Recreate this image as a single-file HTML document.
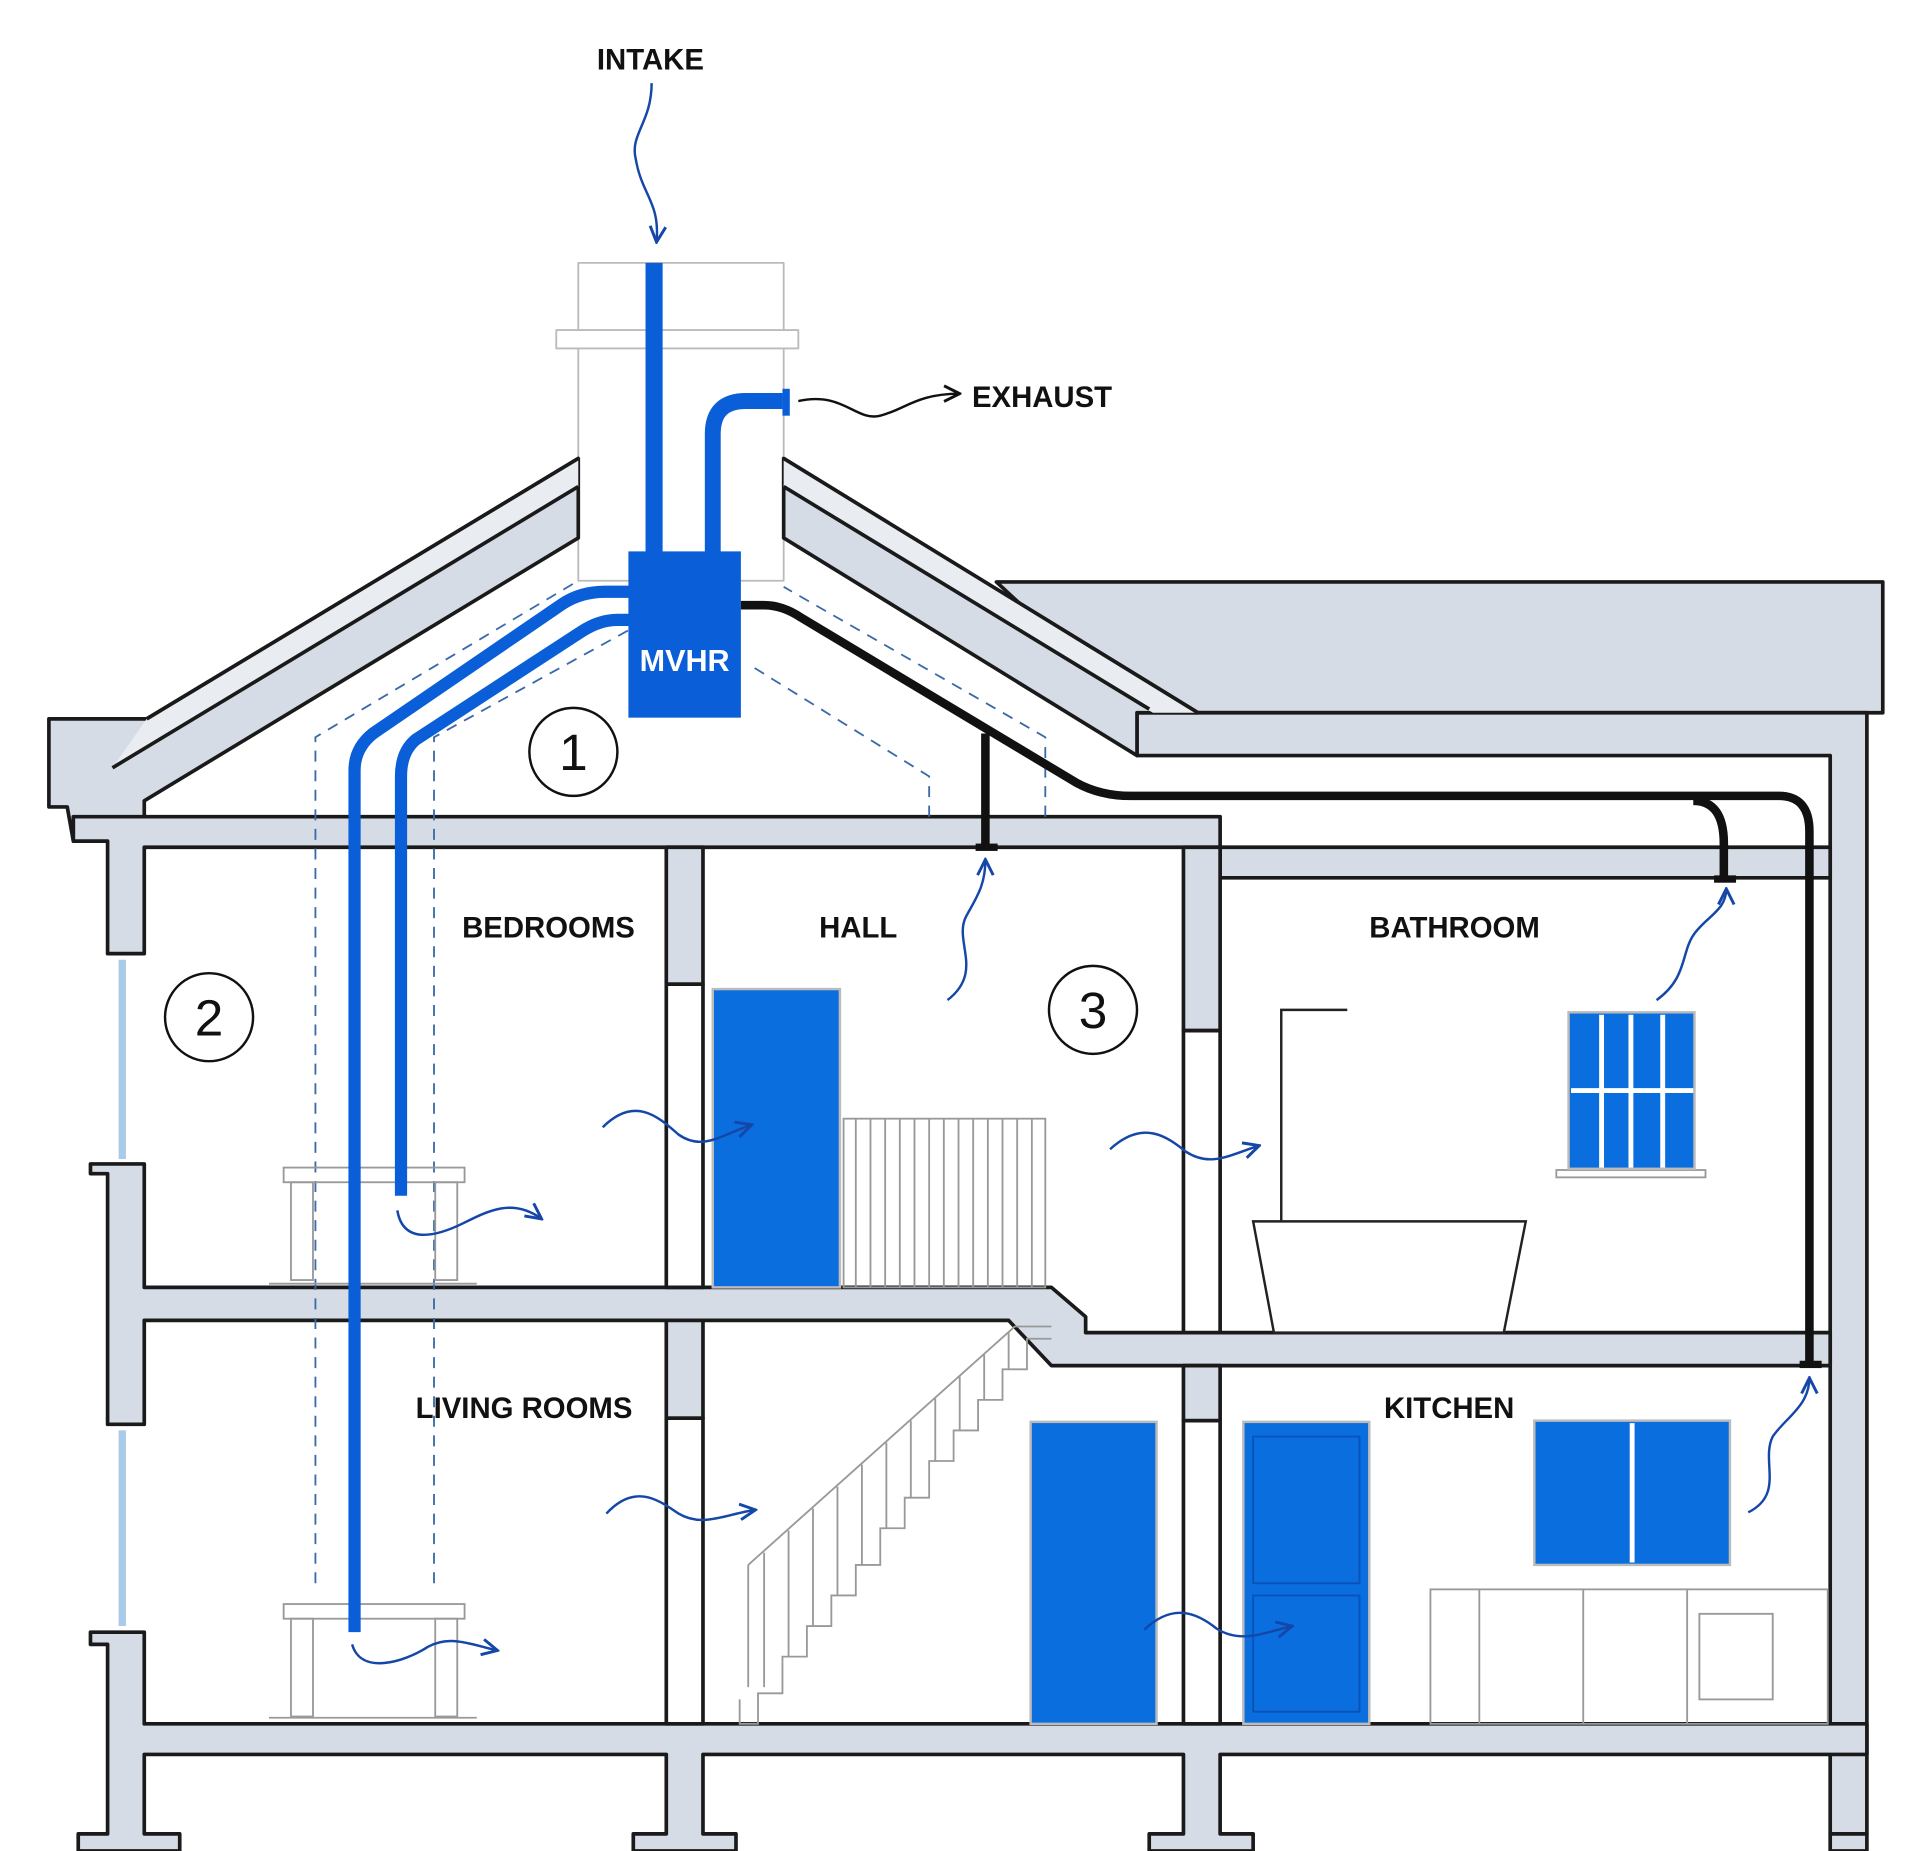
<!DOCTYPE html>
<html><head><meta charset="utf-8"><style>
html,body{margin:0;padding:0;background:#fff}
svg{display:block}
text{font-family:"Liberation Sans",sans-serif;font-weight:bold}
</style></head><body>
<svg width="1917" height="1851" viewBox="0 0 1568 1514" preserveAspectRatio="none" xmlns="http://www.w3.org/2000/svg">
<defs>
<marker id="ah" viewBox="0 0 10 10" refX="9" refY="5" markerWidth="8" markerHeight="8" orient="auto"><path d="M1 1 L9 5 L1 9" fill="none" stroke="#1447a8" stroke-width="1.5"/></marker>
<marker id="ak" viewBox="0 0 10 10" refX="9" refY="5" markerWidth="8" markerHeight="8" orient="auto"><path d="M1 1 L9 5 L1 9" fill="none" stroke="#111" stroke-width="1.5"/></marker>
</defs>
<g stroke="#1a1a1a" stroke-width="3" fill="#d6dce6" stroke-linejoin="round">
<rect x="473" y="215" width="168" height="260" fill="#fff" stroke="#bbb" stroke-width="1.5"/>
<rect x="455" y="270" width="198" height="15" fill="#fff" stroke="#bbb" stroke-width="1.5"/>
<polygon points="815,476 1540,476 1540,583 930,583"/>
<polygon points="930,583 1527,583 1527,1500 1497,1500 1497,618 930,618"/>
<polygon points="40,588 120,588 473,375 473,440 118,655 118,688 60,688 55,660 40,660"/>
<polygon points="641,375 980,583 930,583 930,618 641,440"/>
<polygon points="60,668 998,668 998,693 1497,693 1497,718 998,718 998,693 118,693 118,780 88,780 88,688 60,688"/>
<polygon points="74,952 118,952 118,1053 860,1053 888,1077 888,1090 1497,1090 1497,1117 860,1117 825,1080 118,1080 118,1165 88,1165 88,960 74,960"/>
<polygon points="74,1335 118,1335 118,1410 1497,1410 1527,1410 1527,1435 998,1435 998,1500 1025,1500 1025,1514 940,1514 940,1500 968,1500 968,1435 575,1435 575,1500 602,1500 602,1514 518,1514 518,1500 545,1500 545,1435 118,1435 118,1500 147,1500 147,1514 64,1514 64,1500 88,1500 88,1345 74,1345"/>
<polygon points="1497,1500 1527,1500 1527,1514 1497,1514" />
<rect x="545" y="693" width="30" height="112"/>
<rect x="545" y="805" width="30" height="248" fill="#fff"/>
<rect x="545" y="1080" width="30" height="80"/>
<rect x="545" y="1160" width="30" height="250" fill="#fff"/>
<rect x="968" y="693" width="30" height="150"/>
<rect x="968" y="843" width="30" height="247" fill="#fff"/>
<rect x="968" y="1117" width="30" height="45"/>
<rect x="968" y="1162" width="30" height="248" fill="#fff"/>
</g>
<polygon points="120,588 473,375 473,398 92,628" fill="#e9ecf1" stroke="none"/>
<line x1="120" y1="588" x2="473" y2="375" stroke="#1a1a1a" stroke-width="3"/>
<line x1="473" y1="398" x2="92" y2="628" stroke="#1a1a1a" stroke-width="3"/>
<polygon points="641,375 980,583 943,583 641,398" fill="#e9ecf1" stroke="none"/>
<line x1="641" y1="375" x2="980" y2="583" stroke="#1a1a1a" stroke-width="3"/>
<line x1="641" y1="398" x2="940" y2="580" stroke="#1a1a1a" stroke-width="3"/>
<line x1="100" y1="785" x2="100" y2="948" stroke="#a9cbe8" stroke-width="6"/>
<line x1="100" y1="1170" x2="100" y2="1330" stroke="#a9cbe8" stroke-width="6"/>
<g stroke="#3a6aa8" stroke-width="1.5" fill="none" stroke-dasharray="9,7">
<polyline points="258,1295 258,603 473,475"/>
<polyline points="355,1295 355,603 515,515"/>
<polyline points="760,668 760,635 615,545"/>
<polyline points="855,668 855,603 641,480"/>
</g>
<g stroke="#999" stroke-width="1.5" fill="none">
<rect x="690" y="915" width="165" height="138"/>
<path d="M700 915V1053M712 915V1053M724 915V1053M736 915V1053M748 915V1053M760 915V1053M772 915V1053M784 915V1053M796 915V1053M808 915V1053M820 915V1053M832 915V1053M844 915V1053"/>
<path d="M612 1280 L830 1085 L860 1085 M612 1280 V1380 M605 1390 V1410 H620 V1385 H640 V1355 H660 V1330 H680 V1305 H700 V1280 H720 V1250 H740 V1225 H760 V1195 H780 V1170 H800 V1145 H820 V1120 H840 V1095 H860"/>
<path d="M625 1270V1380M645 1252V1355M665 1234V1330M685 1216V1305M705 1198V1280M725 1180V1250M745 1162V1225M765 1144V1195M785 1126V1170M805 1108V1145M825 1090V1120"/>
<rect x="232" y="955" width="148" height="12"/><rect x="238" y="967" width="18" height="80"/><rect x="356" y="967" width="18" height="80"/><line x1="220" y1="1050" x2="390" y2="1050"/>
<rect x="232" y="1312" width="148" height="12"/><rect x="238" y="1324" width="18" height="80"/><rect x="356" y="1324" width="18" height="80"/><line x1="220" y1="1405" x2="390" y2="1405"/>
<rect x="1170" y="1300" width="325" height="110"/><path d="M1210 1300V1410M1295 1300V1410M1380 1300V1410"/><rect x="1390" y="1320" width="60" height="70"/>
<rect x="1273" y="957" width="122" height="6"/>
</g>
<g stroke="#222" stroke-width="2" fill="none">
<path d="M1048 1000 V826 H1102"/>
<path d="M1025 999 H1248 L1230 1090 H1042 Z" fill="#fff"/>
</g>
<g fill="#0a6ede" stroke="#bbb" stroke-width="2">
<rect x="583" y="809" width="104" height="244"/>
<rect x="843" y="1163" width="103" height="247"/>
<rect x="1017" y="1163" width="103" height="247"/>
<rect x="1283" y="828" width="103" height="128"/>
<rect x="1255" y="1162" width="160" height="118"/>
</g>
<g stroke="#fff" stroke-width="4" fill="none">
<path d="M1334 830V955M1285 892H1385M1310 830V955M1360 830V955"/>
<path d="M1335 1164V1278"/>
</g>
<g stroke="#0852b8" stroke-width="1.5" fill="none"><rect x="1025" y="1175" width="87" height="120"/><rect x="1025" y="1305" width="87" height="95"/></g>
<g stroke="#0a5fd8" fill="none" stroke-linecap="butt">
<line x1="535" y1="215" x2="535" y2="452" stroke-width="14"/>
<path d="M583 452 V355 Q583 328 610 328 H640" stroke-width="13"/>
<path d="M515 484 H495 Q475 484 460 494 L305 600 Q290 612 290 630 V1335" stroke-width="10"/>
<path d="M515 507 H505 Q490 507 475 517 L340 605 Q328 615 328 635 V978" stroke-width="10"/>
</g>
<rect x="640" y="318" width="6" height="22" fill="#0a5fd8"/>
<rect x="514" y="451" width="92" height="136" fill="#0a5fd8"/>
<text x="560" y="549" font-size="25" fill="#fff" text-anchor="middle">MVHR</text>
<g stroke="#111" fill="none" stroke-width="7">
<path d="M606 495 H625 Q640 495 655 505 L880 640 Q900 651 925 651 H1455 Q1480 651 1480 680 V1117"/>
<path d="M1385 655 Q1410 655 1410 690 V720"/>
<path d="M806 600 V693"/>
</g>
<rect x="798" y="690" width="18" height="6" fill="#111"/>
<rect x="1402" y="716" width="18" height="6" fill="#111"/>
<rect x="1472" y="1113" width="18" height="6" fill="#111"/>
<g font-size="24" fill="#111">
<text x="532" y="57" text-anchor="middle">INTAKE</text>
<text x="795" y="333">EXHAUST</text>
<text x="378" y="767">BEDROOMS</text>
<text x="670" y="767">HALL</text>
<text x="1120" y="767">BATHROOM</text>
<text x="340" y="1160">LIVING ROOMS</text>
<text x="1132" y="1160">KITCHEN</text>
</g>
<g fill="#fff" stroke="#111" stroke-width="2"><circle cx="469" cy="615" r="36"/><circle cx="171" cy="832" r="36"/><circle cx="894" cy="826" r="36"/></g>
<g font-size="42" fill="#111" text-anchor="middle"><text x="469" y="630" style="font-weight:normal">1</text><text x="171" y="847" style="font-weight:normal">2</text><text x="894" y="841" style="font-weight:normal">3</text></g>
<g fill="none" stroke-width="2">
<path d="M533 68 C533 100 515 110 520 130 C525 160 540 165 537 198" stroke="#1447a8" marker-end="url(#ah)"/>
<path d="M653 328 C690 320 700 345 720 340 C740 335 750 322 785 322" stroke="#111" marker-end="url(#ak)"/>
<g stroke="#1447a8">
<path d="M493 922 C520 895 540 915 555 928 C575 942 590 928 615 920" marker-end="url(#ah)"/>
<path d="M325 990 C330 1020 360 1010 380 1000 C400 990 420 980 443 997" marker-end="url(#ah)"/>
<path d="M288 1345 C295 1370 330 1360 350 1347 C368 1337 385 1345 407 1350" marker-end="url(#ah)"/>
<path d="M496 1238 C520 1212 540 1228 555 1238 C575 1250 595 1238 618 1235" marker-end="url(#ah)"/>
<path d="M908 940 C935 915 955 930 970 942 C990 955 1005 945 1030 937" marker-end="url(#ah)"/>
<path d="M936 1333 C960 1310 980 1320 995 1332 C1015 1345 1035 1335 1057 1330" marker-end="url(#ah)"/>
<path d="M775 818 C805 795 780 770 790 750 C798 735 806 725 806 703" marker-end="url(#ah)"/>
<path d="M1355 818 C1380 800 1375 780 1385 765 C1395 750 1412 745 1412 727" marker-end="url(#ah)"/>
<path d="M1430 1237 C1460 1222 1440 1195 1450 1175 C1460 1160 1480 1150 1480 1127" marker-end="url(#ah)"/>
</g>
</g>
</svg>
</body></html>
